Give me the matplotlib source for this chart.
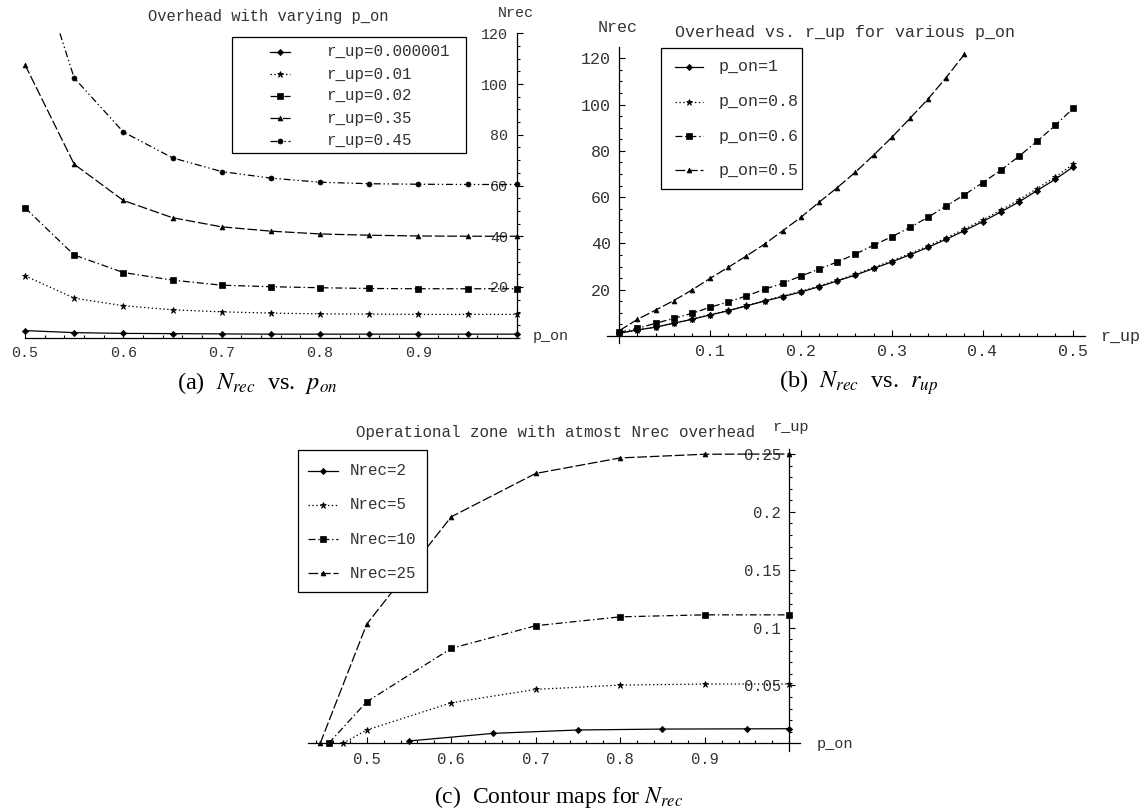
import numpy as np
import matplotlib
matplotlib.use('Agg')
import matplotlib.pyplot as plt
from matplotlib.lines import Line2D
from matplotlib.patches import Rectangle
from matplotlib.ticker import FixedLocator

# ---------------- data ----------------
# (a) Nrec vs p_on
a_pon = [0.5, 0.55, 0.6, 0.65, 0.7, 0.75, 0.8, 0.85, 0.9, 0.95, 1.0]
a_labels = ["r_up=0.000001", "r_up=0.01", "r_up=0.02", "r_up=0.35", "r_up=0.45"]
a_r1 = [2.8, 2.0, 1.7, 1.6, 1.5, 1.4, 1.4, 1.4, 1.4, 1.4, 1.4]
a_r2 = [24.4, 15.6, 12.6, 11.0, 10.2, 9.7, 9.4, 9.3, 9.2, 9.2, 9.2]
a_r3 = [51.2, 32.6, 25.7, 22.7, 20.7, 20.1, 19.7, 19.4, 19.3, 19.3, 19.3]
a_r4 = [107.6, 68.4, 54.1, 47.3, 43.7, 42.0, 40.9, 40.4, 40.1, 40.0, 40.0]
a_r5 = [163.0, 102.4, 81.1, 70.9, 65.5, 62.9, 61.3, 60.7, 60.5, 60.4, 60.4]

# (b) Nrec vs r_up
b_rup = [0.0, 0.02, 0.04, 0.06, 0.08, 0.1, 0.12, 0.14, 0.16, 0.18, 0.2, 0.22, 0.24,
         0.26, 0.28, 0.3, 0.32, 0.34, 0.36, 0.38, 0.4, 0.42, 0.44, 0.46, 0.48, 0.5]
b_labels = ["p_on=1", "p_on=0.8", "p_on=0.6", "p_on=0.5"]
b_p10 = [1.2, 2.6, 3.8, 5.5, 7.2, 9.1, 10.9, 13.0, 15.1, 17.0, 19.0, 21.3, 23.8,
         26.3, 29.2, 32.0, 35.1, 38.3, 41.8, 45.5, 49.4, 53.6, 57.9, 62.8, 67.7, 73.1]
b_p08 = [1.2, 2.6, 3.9, 5.6, 7.3, 9.2, 11.1, 13.2, 15.3, 17.3, 19.3, 21.6, 24.1,
         26.7, 29.6, 32.5, 35.6, 38.9, 42.4, 46.2, 50.1, 54.4, 58.8, 63.7, 68.7, 74.3]
b_p06 = [1.6, 3.3, 5.5, 7.6, 9.8, 12.4, 14.8, 17.3, 20.2, 22.8, 25.9, 28.9, 32.0,
         35.4, 39.2, 42.9, 46.9, 51.3, 56.2, 61.0, 66.2, 71.6, 77.6, 84.1, 91.0, 98.4]
b_p05 = [2.3, 7.2, 11.2, 15.3, 19.9, 24.9, 29.7, 34.6, 39.7, 45.5, 51.3, 57.8, 64.1,
         70.8, 78.1, 85.8, 94.0, 102.4, 111.7, 121.7]

# (c) operational zone
c_labels = ["Nrec=2", "Nrec=5", "Nrec=10", "Nrec=25"]
c_x2 = [0.55, 0.65, 0.75, 0.85, 0.95, 1.0]
c_y2 = [0.002, 0.0086, 0.0115, 0.0123, 0.0125, 0.0126]
c_x5 = [0.472, 0.5, 0.6, 0.7, 0.8, 0.9, 1.0]
c_y5 = [0.0, 0.0115, 0.035, 0.0466, 0.0503, 0.0512, 0.0512]
c_x10 = [0.455, 0.5, 0.6, 0.7, 0.8, 0.9, 1.0]
c_y10 = [0.0, 0.0359, 0.082, 0.1016, 0.1093, 0.111, 0.111]
c_x25 = [0.445, 0.5, 0.6, 0.7, 0.8, 0.9, 1.0]
c_y25 = [0.0, 0.103, 0.1957, 0.2332, 0.2466, 0.2498, 0.25]

# ---------------- styles ----------------
W, H = 1143, 811
plt.rcParams['font.family'] = ['Liberation Mono', 'DejaVu Sans Mono']
plt.rcParams['mathtext.fontset'] = 'stix'
plt.rcParams['lines.scale_dashes'] = False
TXT = '#333333'
LW = 0.9

ST_DIAMOND = dict(dashes=None, marker='D', ms=3.2)
ST_STAR = dict(dashes=(1.0, 1.8), marker='*', ms=5.0)
ST_SQUARE = dict(dashes=(5, 2, 1, 2), marker='s', ms=4.6)
ST_TRI = dict(dashes=(7, 2), marker='^', ms=3.5)
ST_CIRC = dict(dashes=(5, 2, 1, 2, 1, 2), marker='o', ms=3.6)


def kw(st, **extra):
    d = dict(color='k', lw=LW, marker=st['marker'], ms=st['ms'],
             mfc='k', mec='k', mew=0.5)
    if st['dashes'] is None:
        d['ls'] = '-'
    else:
        d['dashes'] = st['dashes']
    d.update(extra)
    return d


fig = plt.figure(figsize=(W / 100, H / 100), dpi=100)


def ftext(px, py, s, **k):
    k.setdefault('color', TXT)
    fig.text(px / W, 1 - py / H, s, **k)


def axes_at(xlim, ylim, xcal, ycal):
    (xa, pxa), (xb, pxb) = xcal
    (ya, pya), (yb, pyb) = ycal
    sx = (pxb - pxa) / (xb - xa)
    sy = (pyb - pya) / (yb - ya)
    l = pxa + (xlim[0] - xa) * sx
    r = pxa + (xlim[1] - xa) * sx
    b = pya + (ylim[0] - ya) * sy
    t = pya + (ylim[1] - ya) * sy
    ax = fig.add_axes([l / W, 1 - b / H, (r - l) / W, (b - t) / H])
    ax.set_xlim(*xlim)
    ax.set_ylim(*ylim)
    ax.patch.set_visible(False)
    return ax


def style_axes(ax, vx, hy, xb, yb, xt, xtl, yt, ytl, xmin, ymin, fs):
    for s in ('top', 'right'):
        ax.spines[s].set_visible(False)
    ax.spines['left'].set_position(('data', vx))
    ax.spines['bottom'].set_position(('data', hy))
    for s in ('left', 'bottom'):
        ax.spines[s].set_linewidth(0.9)
    if xb is not None:
        ax.spines['bottom'].set_bounds(*xb)
    if yb is not None:
        ax.spines['left'].set_bounds(*yb)
    ax.set_xticks(xt)
    ax.set_xticklabels(xtl)
    ax.set_yticks(yt)
    ax.set_yticklabels(ytl)
    ax.xaxis.set_minor_locator(FixedLocator(xmin))
    ax.yaxis.set_minor_locator(FixedLocator(ymin))
    ax.tick_params(which='both', direction='in', color='k', width=0.8,
                   labelsize=fs, labelcolor=TXT, pad=6)
    ax.tick_params(which='major', length=4.5)
    ax.tick_params(which='minor', length=2.5)


def legend_px(box, styles, labels, hx0, hx1, tx, ys, fs):
    x0, y0, x1, y1 = box
    fig.add_artist(Rectangle((x0 / W, 1 - y1 / H), (x1 - x0) / W, (y1 - y0) / H,
                             transform=fig.transFigure, fc='white', ec='k', lw=0.9,
                             zorder=5))
    for st, lab, y in zip(styles, labels, ys):
        ln = Line2D([hx0 / W, hx1 / W], [1 - y / H] * 2, transform=fig.transFigure,
                    zorder=6, **kw(st, marker=None))
        fig.add_artist(ln)
        mk = Line2D([(hx0 + hx1) / 2 / W], [1 - y / H], transform=fig.transFigure,
                    ls='none', marker=st['marker'], ms=st['ms'], color='k', mfc='k',
                    mec='k', mew=0.5, zorder=7)
        fig.add_artist(mk)
        ftext(tx, y, lab, fontsize=fs, ha='left', va='center', zorder=7)


# ---------------- panel (a) ----------------
axa = axes_at((0.49, 1.008), (-1.5, 120), ((0.5, 25), (1.0, 516.7)),
              ((0, 337.7), (120, 33.3)))
style_axes(axa, 1.0, 0, (0.5, 1.0), (0, 120),
           [0.5, 0.6, 0.7, 0.8, 0.9], ['0.5', '0.6', '0.7', '0.8', '0.9'],
           [20, 40, 60, 80, 100, 120], ['20', '40', '60', '80', '100', '120'],
           np.arange(0.5, 1.001, 0.02), np.arange(0, 121, 5), 10.8)
for ys, st in zip([a_r1, a_r2, a_r3, a_r4, a_r5],
                  [ST_DIAMOND, ST_STAR, ST_SQUARE, ST_TRI, ST_CIRC]):
    axa.plot(a_pon, ys, **kw(st))
ftext(268, 17, 'Overhead with varying p_on', fontsize=11.2, ha='center', va='center')
ftext(516, 13, 'Nrec', fontsize=10.8, ha='center', va='center')
ftext(533, 336, 'p_on', fontsize=10.8, ha='left', va='center')
legend_px((232, 37, 466, 153), [ST_DIAMOND, ST_STAR, ST_SQUARE, ST_TRI, ST_CIRC],
          a_labels, 270, 290, 326, [51.7, 74, 95.7, 118.3, 140.7], 11.4)

# ---------------- panel (b) ----------------
axb = axes_at((-0.014, 0.513), (-3, 124.7), ((0, 619.3), (0.5, 1073.3)),
              ((0, 336), (120, 58.3)))
style_axes(axb, 0, 0, None, None,
           [0.1, 0.2, 0.3, 0.4, 0.5], ['0.1', '0.2', '0.3', '0.4', '0.5'],
           [20, 40, 60, 80, 100, 120], ['20', '40', '60', '80', '100', '120'],
           np.arange(0.02, 0.501, 0.02), np.arange(5, 125, 5), 12)
axb.plot(b_rup, b_p10, **kw(ST_DIAMOND))
axb.plot(b_rup, b_p08, **kw(ST_STAR))
axb.plot(b_rup, b_p06, **kw(ST_SQUARE))
axb.plot(b_rup[:len(b_p05)], b_p05, **kw(ST_TRI))
ftext(845, 33, 'Overhead vs. r_up for various p_on', fontsize=12, ha='center', va='center')
ftext(618, 27, 'Nrec', fontsize=12, ha='center', va='center')
ftext(1100, 336, 'r_up', fontsize=12, ha='left', va='center')
legend_px((660.7, 48.3, 802.3, 189.3), [ST_DIAMOND, ST_STAR, ST_SQUARE, ST_TRI],
          b_labels, 675, 703, 718.3, [66.7, 101.7, 136, 170], 12)

# ---------------- panel (c) ----------------
axc = axes_at((0.431, 1.013), (-0.007, 0.2545), ((0.5, 366.7), (1.0, 789.2)),
              ((0, 743.3), (0.25, 454)))
style_axes(axc, 1.0, 0, None, None,
           [0.5, 0.6, 0.7, 0.8, 0.9], ['0.5', '0.6', '0.7', '0.8', '0.9'],
           [0.05, 0.1, 0.15, 0.2, 0.25], ['0.05', '0.1', '0.15', '0.2', '0.25'],
           np.arange(0.44, 1.001, 0.02), np.arange(0.01, 0.251, 0.01), 11.2)
axc.plot(c_x2, c_y2, **kw(ST_DIAMOND))
axc.plot(c_x5, c_y5, **kw(ST_STAR))
axc.plot(c_x10, c_y10, **kw(ST_SQUARE))
axc.plot(c_x25, c_y25, **kw(ST_TRI))
ftext(555, 432, 'Operational zone with atmost Nrec overhead', fontsize=11.4,
      ha='center', va='center')
ftext(790, 427, 'r_up', fontsize=11, ha='center', va='center')
ftext(817, 744, 'p_on', fontsize=11, ha='left', va='center')
legend_px((297.7, 450, 426.7, 591.7), [ST_DIAMOND, ST_STAR, ST_SQUARE, ST_TRI],
          c_labels, 308.3, 338.3, 350, [470.7, 505, 539, 573.3], 11.4)

# ---------------- captions ----------------
SERIF = ['Liberation Serif', 'DejaVu Serif']
ftext(257.5, 383, r'(a)  $N_{rec}$  vs.  $p_{on}$', fontsize=17.5, family=SERIF,
      ha='center', va='center', color='k')
ftext(859, 383, r'(b)  $N_{rec}$  vs.  $r_{up}$', fontsize=17.5, family=SERIF,
      ha='center', va='center', color='k')
ftext(559, 797, r'(c)  Contour maps for $N_{rec}$', fontsize=17, family=SERIF,
      ha='center', va='center', color='k')

fig.savefig('out.png', dpi=100)
